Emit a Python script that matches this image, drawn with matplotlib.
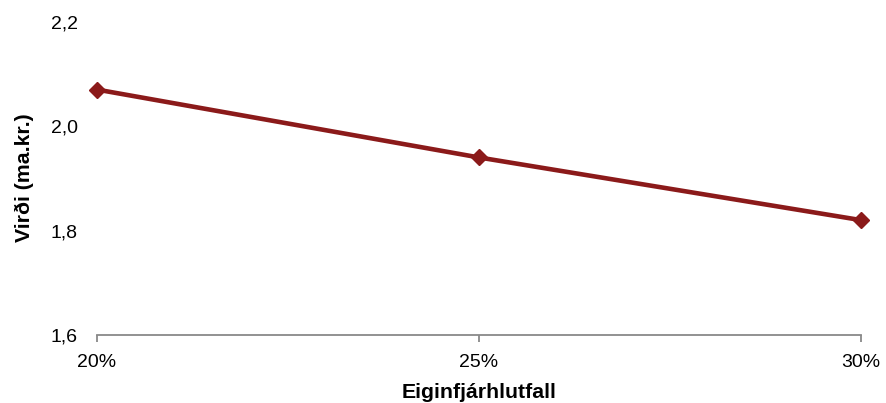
import matplotlib.pyplot as plt

# equity ratio vs. value
categories = ['20%', '25%', '30%']
values = [2.07, 1.94, 1.82]
ytick_vals = [1.6, 1.8, 2.0, 2.2]
ytick_labels = ['1,6', '1,8', '2,0', '2,2']

plt.rcParams['font.family'] = ['Liberation Sans', 'DejaVu Sans']

fig = plt.figure(figsize=(8.86, 4.03), dpi=100)
ax = fig.add_axes([97 / 886, 68 / 403, 764 / 886, 313.3 / 403])

x = list(range(len(categories)))
ax.plot(x, values, color='#8B1A1A', linewidth=3.3, marker='D', markersize=8,
        clip_on=False, zorder=3)

ax.set_xlim(0, len(categories) - 1)
ax.set_ylim(1.6, 2.2)
ax.set_xticks(x)
ax.set_xticklabels(categories, fontsize=14)
ax.set_yticks(ytick_vals)
ax.set_yticklabels(ytick_labels, fontsize=14)

for s in ['top', 'right', 'left']:
    ax.spines[s].set_visible(False)
ax.spines['bottom'].set_color('#898989')
ax.spines['bottom'].set_linewidth(1.3)
ax.tick_params(axis='x', direction='out', length=5, width=1.3, color='#898989', pad=8.5)
ax.tick_params(axis='y', length=0, pad=14)

fig.text(24 / 886, 1 - 178 / 403, 'Virði (ma.kr.)', rotation=90, ha='center', va='center',
         fontsize=15.3, fontweight='bold')
fig.text(479 / 886, 1 - 392 / 403, 'Eiginfjárhlutfall', ha='center', va='center',
         fontsize=15.3, fontweight='bold')

plt.savefig('out.png', dpi=100)
